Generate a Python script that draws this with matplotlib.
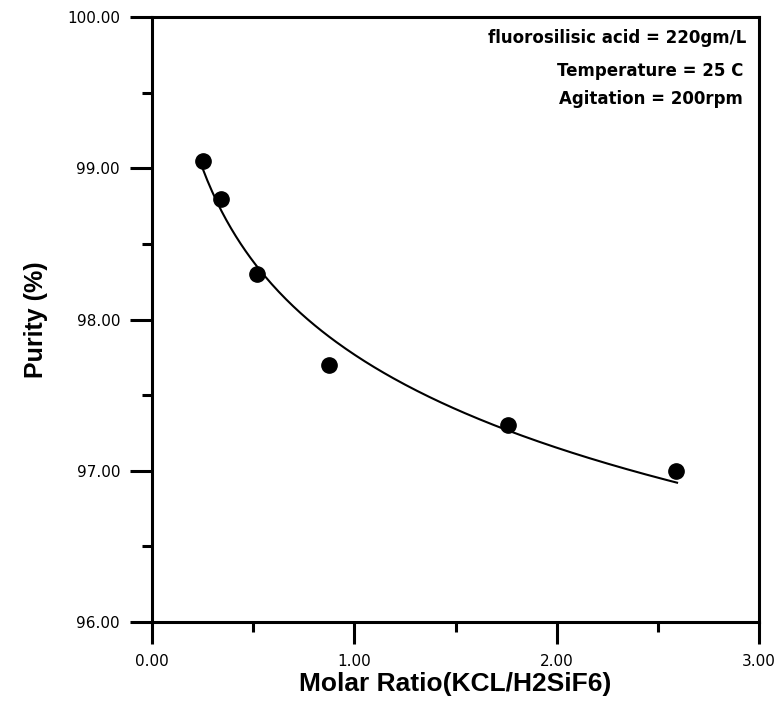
import numpy as np
import matplotlib
matplotlib.use("Agg")
import matplotlib.pyplot as plt
import matplotlib.ticker as ticker

plt.rcParams['font.family'] = ['Liberation Sans', 'DejaVu Sans']

# data
molar_ratio = [0.25, 0.34, 0.52, 0.875, 1.76, 2.59]
purity = [99.05, 98.80, 98.30, 97.70, 97.30, 97.00]
notes = ["fluorosilisic acid = 220gm/L", "Temperature = 25 C", "Agitation = 200rpm"]

# log trendline fitted to the points
b, a = np.polyfit(np.log(molar_ratio), purity, 1)
xs = np.linspace(min(molar_ratio), max(molar_ratio) + 0.005, 200)
ys = a + b * np.log(xs)

fig = plt.figure(figsize=(7.77, 7.07), dpi=100)
ax = fig.add_axes([152/777, 1 - 622/707, (759-152)/777, (622-17)/707])

ax.plot(xs, ys, color="black", lw=1.5)
ax.plot(molar_ratio, purity, "o", color="black", ms=11)

ax.set_xlim(0, 3)
ax.set_ylim(96, 100)
ax.xaxis.set_major_locator(ticker.MultipleLocator(1))
ax.xaxis.set_minor_locator(ticker.MultipleLocator(0.5))
ax.yaxis.set_major_locator(ticker.MultipleLocator(1))
ax.yaxis.set_minor_locator(ticker.MultipleLocator(0.5))
ax.xaxis.set_major_formatter(ticker.FormatStrFormatter("%.2f"))
ax.yaxis.set_major_formatter(ticker.FormatStrFormatter("%.2f"))

for s in ax.spines.values():
    s.set_linewidth(2.2)
ax.tick_params(which="major", direction="out", length=16, width=2.2, pad=7)
ax.tick_params(which="minor", direction="out", length=7.5, width=2.2)
for lab in ax.get_xticklabels() + ax.get_yticklabels():
    lab.set_family("DejaVu Sans")
    lab.set_fontsize(11)

ax.set_xlabel("Molar Ratio(KCL/H2SiF6)", fontsize=19, fontweight="bold", labelpad=2)
ax.set_ylabel("Purity (%)", fontsize=18, fontweight="bold", labelpad=14)

ax.text(0.980, 0.965, notes[0], transform=ax.transAxes, ha="right", va="center",
        fontsize=12, fontweight="bold", family="DejaVu Sans")
ax.text(0.974, 0.911, notes[1], transform=ax.transAxes, ha="right", va="center",
        fontsize=12, fontweight="bold", family="DejaVu Sans")
ax.text(0.974, 0.864, notes[2], transform=ax.transAxes, ha="right", va="center",
        fontsize=12, fontweight="bold", family="DejaVu Sans")

plt.savefig("out.png", dpi=100)
